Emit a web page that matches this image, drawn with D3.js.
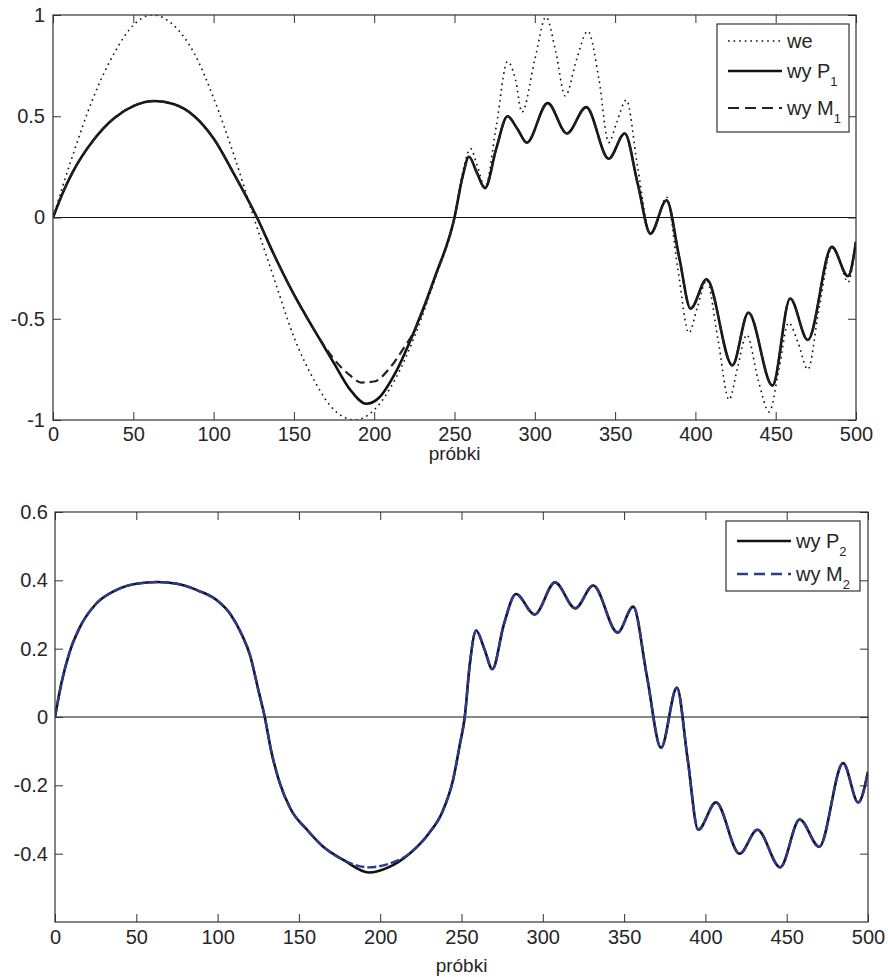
<!DOCTYPE html>
<html>
<head>
<meta charset="utf-8">
<script src="https://cdn.jsdelivr.net/npm/d3@7"></script>
<style>
  body { margin: 0; background: #fff; }
</style>
</head>
<body>
<div id="chart"></div>
<script>
// Tick values
var xTicks = [0, 50, 100, 150, 200, 250, 300, 350, 400, 450, 500];
var topYTicks = [-1, -0.5, 0, 0.5, 1];
var bottomYTicks = [-0.4, -0.2, 0, 0.2, 0.4, 0.6];

// Top panel series: [sample, value]
var weData = [
  [0, 0], [12, 0.3], [25, 0.59], [38, 0.81], [50, 0.95], [62, 1.0], [75, 0.95], [88, 0.81],
  [100, 0.59], [113, 0.3], [125, 0], [138, -0.31], [150, -0.59], [163, -0.81], [175, -0.95],
  [188, -1.0], [200, -0.95], [213, -0.8], [225, -0.59], [238, -0.3], [250, 0],
  [255, 0.22], [260, 0.34], [264, 0.26], [269, 0.15], [276, 0.45], [283, 0.77], [288, 0.68],
  [292, 0.52], [300, 0.78], [307, 0.99], [313, 0.82], [319, 0.6], [326, 0.78], [333, 0.92],
  [340, 0.68], [346, 0.37], [351, 0.47], [357, 0.58], [364, 0.25], [372, -0.08], [377, 0.0],
  [382, 0.1], [389, -0.25], [396, -0.57], [401, -0.45], [407, -0.31], [414, -0.6], [421, -0.9],
  [426, -0.75], [432, -0.58], [439, -0.8], [446, -0.96], [452, -0.75], [458, -0.52], [464, -0.62],
  [470, -0.75], [477, -0.45], [485, -0.15], [490, -0.22], [495, -0.32], [500, -0.1]
];

var p1Data = [
  [0, 0], [6, 0.12], [12, 0.22], [25, 0.38], [38, 0.49], [50, 0.55], [63, 0.575], [75, 0.56],
  [88, 0.5], [100, 0.39], [113, 0.21], [127, 0], [138, -0.19], [150, -0.38], [163, -0.56],
  [175, -0.72], [185, -0.85], [195, -0.92], [203, -0.89], [213, -0.77], [225, -0.56],
  [238, -0.29], [250, 0],
  [255, 0.2], [259, 0.3], [264, 0.22], [269, 0.145], [276, 0.34], [283, 0.5], [289, 0.44],
  [295, 0.37], [308, 0.565], [320, 0.415], [332, 0.545], [346, 0.29], [356, 0.415], [364, 0.17],
  [372, -0.08], [382, 0.085], [390, -0.2], [397, -0.45], [407, -0.305], [423, -0.73],
  [433, -0.47], [448, -0.83], [459, -0.4], [470, -0.605], [485, -0.145], [495, -0.29], [500, -0.12]
];

var m1Data = [
  [0, 0], [6, 0.12], [12, 0.22], [25, 0.38], [38, 0.49], [50, 0.55], [63, 0.575], [75, 0.56],
  [88, 0.5], [100, 0.39], [113, 0.21], [127, 0], [138, -0.19], [150, -0.38], [163, -0.56],
  [175, -0.7], [185, -0.78], [192, -0.815], [200, -0.81], [210, -0.74], [218, -0.65], [225, -0.56],
  [238, -0.29], [250, 0],
  [255, 0.2], [259, 0.3], [264, 0.22], [269, 0.145], [276, 0.34], [283, 0.5], [289, 0.44],
  [295, 0.37], [308, 0.565], [320, 0.415], [332, 0.545], [346, 0.29], [356, 0.415], [364, 0.17],
  [372, -0.08], [382, 0.085], [390, -0.2], [397, -0.45], [407, -0.305], [423, -0.73],
  [433, -0.47], [448, -0.83], [459, -0.4], [470, -0.605], [485, -0.145], [495, -0.29], [500, -0.12]
];

// Bottom panel series
var p2Data = [
  [0, 0], [4, 0.1], [9, 0.19], [15, 0.26], [25, 0.33], [37, 0.37], [50, 0.39], [63, 0.395],
  [75, 0.39], [88, 0.37], [100, 0.34], [108, 0.3], [115, 0.24], [120, 0.18], [125, 0.08],
  [129, 0], [133, -0.1], [138, -0.19], [145, -0.27], [155, -0.33], [165, -0.38], [178, -0.42],
  [193, -0.455], [205, -0.44], [218, -0.4], [230, -0.34], [238, -0.28], [245, -0.18],
  [249, -0.08], [252, 0], [255, 0.15], [259, 0.253], [264, 0.2], [269, 0.14], [276, 0.27],
  [283.5, 0.36], [295, 0.3], [307.5, 0.394], [320, 0.318], [331, 0.385], [346, 0.247],
  [355.6, 0.323], [364, 0.12], [372.7, -0.09], [382.5, 0.086], [389, -0.12], [395.6, -0.33],
  [406.5, -0.25], [421, -0.4], [432, -0.33], [446, -0.44], [458, -0.3], [470, -0.38],
  [484.7, -0.135], [494, -0.25], [500, -0.16]
];

var m2Data = [
  [0, 0], [4, 0.1], [9, 0.19], [15, 0.26], [25, 0.33], [37, 0.37], [50, 0.39], [63, 0.395],
  [75, 0.39], [88, 0.37], [100, 0.34], [108, 0.3], [115, 0.24], [120, 0.18], [125, 0.08],
  [129, 0], [133, -0.1], [138, -0.19], [145, -0.27], [155, -0.33], [165, -0.38], [178, -0.42],
  [193, -0.44], [205, -0.43], [218, -0.4], [230, -0.34], [238, -0.28], [245, -0.18],
  [249, -0.08], [252, 0], [255, 0.15], [259, 0.253], [264, 0.2], [269, 0.14], [276, 0.27],
  [283.5, 0.36], [295, 0.3], [307.5, 0.394], [320, 0.318], [331, 0.385], [346, 0.247],
  [355.6, 0.323], [364, 0.12], [372.7, -0.09], [382.5, 0.086], [389, -0.12], [395.6, -0.33],
  [406.5, -0.25], [421, -0.4], [432, -0.33], [446, -0.44], [458, -0.3], [470, -0.38],
  [484.7, -0.135], [494, -0.25], [500, -0.16]
];

var FONT = "'Liberation Sans', Arial, Helvetica, sans-serif";
var AXIS_COLOR = "#333";
var TEXT_COLOR = "#262626";

var svg = d3.select("#chart")
    .append("svg")
    .attr("width", 888)
    .attr("height", 977)
    .style("background", "white");

function drawPanel(cfg) {
    var x = d3.scaleLinear().domain([0, 500]).range([cfg.left, cfg.right]);
    var y = d3.scaleLinear().domain(cfg.yDomain).range([cfg.bottom, cfg.top]);
    var g = svg.append("g");

    // clip so lines stay in the box
    g.append("clipPath")
        .attr("id", cfg.id + "-clip")
        .append("rect")
        .attr("x", cfg.left)
        .attr("y", cfg.top)
        .attr("width", cfg.right - cfg.left)
        .attr("height", cfg.bottom - cfg.top);

    // zero line
    g.append("line")
        .attr("x1", cfg.left).attr("x2", cfg.right)
        .attr("y1", y(0)).attr("y2", y(0))
        .attr("stroke", "#111")
        .attr("stroke-width", 1);

    var line = d3.line()
        .x(d => x(d[0]))
        .y(d => y(d[1]))
        .curve(d3.curveMonotoneX);

    var plot = g.append("g").attr("clip-path", "url(#" + cfg.id + "-clip)");
    cfg.series.forEach(s => {
        plot.append("path")
            .datum(s.data)
            .attr("fill", "none")
            .attr("stroke", s.stroke)
            .attr("stroke-width", s.width)
            .attr("stroke-dasharray", s.dash || null)
            .attr("stroke-linejoin", "round")
            .attr("d", line);
    });

    // axes, ticks pointing inward (matlab look)
    var fmt = d => String(d);
    var styleAxis = function(sel) {
        sel.select(".domain").remove();
        sel.selectAll(".tick line").attr("stroke", AXIS_COLOR);
        sel.selectAll("text")
            .attr("fill", TEXT_COLOR)
            .style("font-family", FONT)
            .style("font-size", "20px");
    };

    g.append("g")
        .attr("transform", `translate(0, ${cfg.bottom})`)
        .call(d3.axisBottom(x).tickValues(xTicks).tickFormat(fmt).tickSizeInner(-8).tickSizeOuter(0).tickPadding(cfg.xPad))
        .call(styleAxis);
    g.append("g")
        .attr("transform", `translate(0, ${cfg.top})`)
        .call(d3.axisTop(x).tickValues(xTicks).tickFormat("").tickSizeInner(-8).tickSizeOuter(0))
        .call(styleAxis);
    g.append("g")
        .attr("transform", `translate(${cfg.left}, 0)`)
        .call(d3.axisLeft(y).tickValues(cfg.yTicks).tickFormat(fmt).tickSizeInner(-8).tickSizeOuter(0).tickPadding(cfg.yPad))
        .call(styleAxis);
    g.append("g")
        .attr("transform", `translate(${cfg.right}, 0)`)
        .call(d3.axisRight(y).tickValues(cfg.yTicks).tickFormat("").tickSizeInner(-8).tickSizeOuter(0))
        .call(styleAxis);

    // box
    g.append("rect")
        .attr("x", cfg.left).attr("y", cfg.top)
        .attr("width", cfg.right - cfg.left)
        .attr("height", cfg.bottom - cfg.top)
        .attr("fill", "none")
        .attr("stroke", AXIS_COLOR)
        .attr("stroke-width", 1.2);

    // x label
    g.append("text")
        .attr("x", (cfg.left + cfg.right) / 2)
        .attr("y", cfg.xLabelY)
        .attr("text-anchor", "middle")
        .attr("fill", TEXT_COLOR)
        .style("font-family", FONT)
        .style("font-size", "19px")
        .text("próbki");

    // legend
    var L = cfg.legend;
    g.append("rect")
        .attr("x", L.x).attr("y", L.y)
        .attr("width", L.w).attr("height", L.h)
        .attr("fill", "white")
        .attr("stroke", AXIS_COLOR)
        .attr("stroke-width", 1.2);
    L.items.forEach((it, i) => {
        var ly = L.rows[i];
        g.append("line")
            .attr("x1", L.x + 11).attr("x2", L.x + 65)
            .attr("y1", ly).attr("y2", ly)
            .attr("stroke", it.stroke)
            .attr("stroke-width", it.width)
            .attr("stroke-dasharray", it.dash || null);
        var t = g.append("text")
            .attr("x", L.x + 70)
            .attr("y", ly + 7)
            .attr("fill", TEXT_COLOR)
            .style("font-family", FONT)
            .style("font-size", "20px")
            .text(it.label);
        if (it.sub) {
            t.append("tspan")
                .attr("dy", 8)
                .style("font-size", "13px")
                .text(it.sub);
        }
    });
}

drawPanel({
    id: "top",
    left: 53, right: 856, top: 15, bottom: 420,
    yDomain: [-1, 1],
    yTicks: topYTicks,
    xPad: 7, yPad: 8,
    xLabelY: 460,
    series: [
        { data: weData, stroke: "#111", width: 1.6, dash: "1.6,4" },
        { data: p1Data, stroke: "#111", width: 2.6 },
        { data: m1Data, stroke: "#222", width: 2.2, dash: "9,5" }
    ],
    legend: {
        x: 717, y: 24, w: 132, h: 108,
        rows: [41, 71, 108],
        items: [
            { label: "we", stroke: "#111", width: 1.6, dash: "1.6,4" },
            { label: "wy P", sub: "1", stroke: "#111", width: 2.6 },
            { label: "wy M", sub: "1", stroke: "#222", width: 2.2, dash: "11,6" }
        ]
    }
});

drawPanel({
    id: "bottom",
    left: 55, right: 868, top: 512, bottom: 922,
    yDomain: [-0.6, 0.6],
    yTicks: bottomYTicks,
    xPad: 8, yPad: 7,
    xLabelY: 972,
    series: [
        { data: p2Data, stroke: "#111", width: 2.6 },
        { data: m2Data, stroke: "#2d3a8f", width: 2.4, dash: "9,3" }
    ],
    legend: {
        x: 726, y: 521, w: 134, h: 70,
        rows: [541, 574],
        items: [
            { label: "wy P", sub: "2", stroke: "#111", width: 2.6 },
            { label: "wy M", sub: "2", stroke: "#2d3a8f", width: 2.4, dash: "11,6" }
        ]
    }
});
</script>
</body>
</html>
